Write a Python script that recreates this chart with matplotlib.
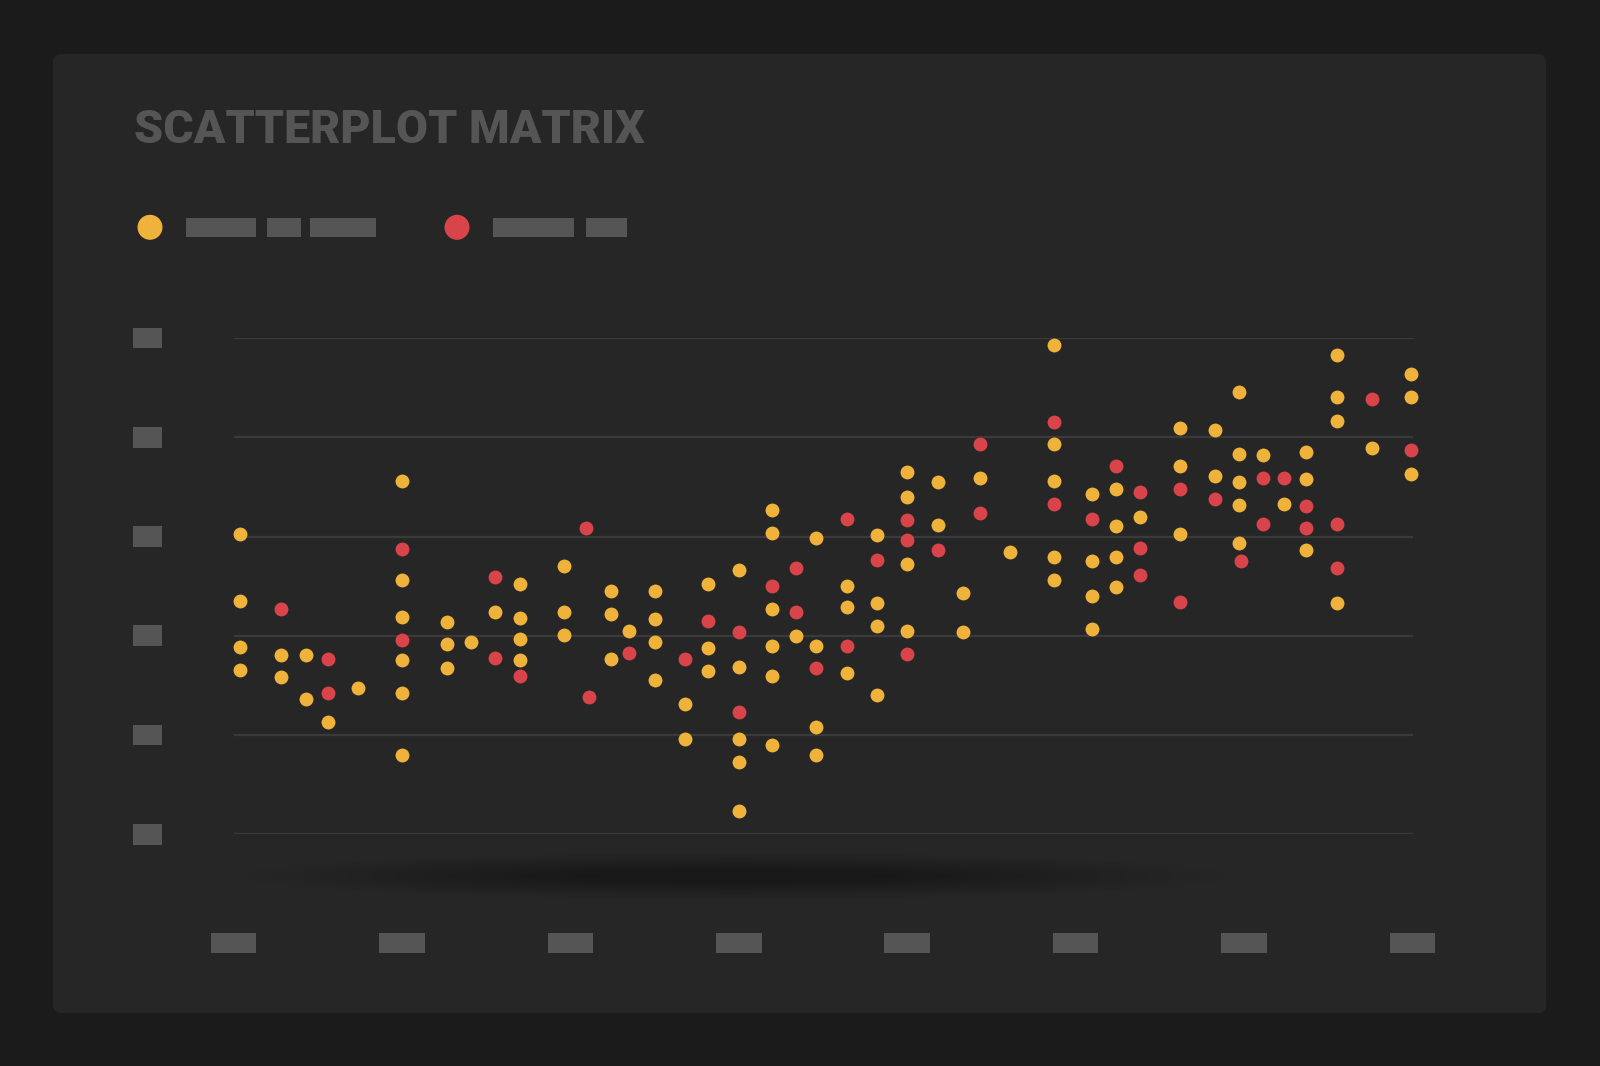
import numpy as np
import matplotlib
matplotlib.use('Agg')
import matplotlib.pyplot as plt
from matplotlib.patches import FancyBboxPatch, Rectangle, Circle, Ellipse
from matplotlib import transforms

# values (x in tick steps, y in grid steps)
yellow_x = [0.04, 0.04, 0.04, 0.04, 0.28, 0.28, 0.43, 0.43, 0.56, 0.74,
            1.00, 1.00, 1.00, 1.00, 1.00, 1.00, 1.27, 1.27, 1.27, 1.41, 1.55,
            1.70, 1.70, 1.70, 1.70, 1.96, 1.96, 1.96, 2.24, 2.24, 2.24, 2.35,
            2.50, 2.50, 2.50, 2.50, 2.68, 2.68, 2.82, 2.82, 2.82,
            3.00, 3.00, 3.00, 3.00, 3.00, 3.20, 3.20, 3.20, 3.20, 3.20, 3.20,
            3.34, 3.46, 3.46, 3.46, 3.46, 3.64, 3.64, 3.64, 3.82, 3.82, 3.82, 3.82,
            4.00, 4.00, 4.00, 4.00, 4.18, 4.18, 4.33, 4.33, 4.43, 4.61,
            4.87, 4.87, 4.87, 4.87, 4.87, 5.10, 5.10, 5.10, 5.10,
            5.24, 5.24, 5.24, 5.24, 5.38, 5.62, 5.62, 5.62, 5.83, 5.83,
            5.97, 5.97, 5.97, 5.97, 5.97, 6.11, 6.24, 6.37, 6.37, 6.37,
            6.55, 6.55, 6.55, 6.55, 6.76, 6.99, 6.99, 6.99]
yellow_y = [3.03, 2.35, 1.89, 1.66, 1.81, 1.58, 1.81, 1.36, 1.13, 1.47,
            3.56, 2.56, 2.19, 1.76, 1.42, 0.80, 2.14, 1.92, 1.68, 1.94, 2.24,
            2.52, 2.18, 1.97, 1.76, 2.70, 2.24, 2.01, 2.45, 2.22, 1.77, 2.05,
            2.45, 2.17, 1.94, 1.55, 1.31, 0.96, 2.52, 1.88, 1.65,
            2.66, 1.69, 0.96, 0.73, 0.23, 3.27, 3.04, 2.27, 1.90, 1.59, 0.90,
            2.00, 2.99, 1.90, 1.08, 0.80, 2.50, 2.29, 1.62, 3.02, 2.33, 2.10, 1.40,
            3.65, 3.40, 2.72, 2.05, 3.55, 3.12, 2.43, 2.04, 3.59, 2.84,
            4.93, 3.93, 3.56, 2.79, 2.56, 3.43, 2.75, 2.40, 2.07,
            3.48, 3.11, 2.79, 2.49, 3.20, 4.09, 3.71, 3.03, 4.07, 3.61,
            4.46, 3.83, 3.55, 3.32, 2.93, 3.82, 3.33, 3.85, 3.58, 2.86,
            4.83, 4.41, 4.16, 2.33, 3.89, 4.64, 4.41, 3.63]

red_x = [0.28, 0.56, 0.56, 1.00, 1.00, 1.55, 1.55, 1.70, 2.09, 2.11, 2.35,
         2.68, 2.82, 3.00, 3.00, 3.20, 3.34, 3.34, 3.46, 3.64, 3.64, 3.82,
         4.00, 4.00, 4.00, 4.18, 4.43, 4.43, 4.87, 4.87, 5.10, 5.24,
         5.38, 5.38, 5.38, 5.62, 5.62, 5.83, 5.98, 6.11, 6.11, 6.24,
         6.37, 6.37, 6.55, 6.55, 6.76, 6.99]
red_y = [2.27, 1.77, 1.42, 2.87, 1.96, 2.59, 1.78, 1.59, 3.09, 1.38, 1.83,
         1.77, 2.15, 2.04, 1.23, 2.50, 2.68, 2.24, 1.68, 3.18, 1.90, 2.76,
         3.17, 2.96, 1.82, 2.86, 3.93, 3.24, 4.15, 3.33, 3.18, 3.71,
         3.45, 2.88, 2.61, 3.48, 2.34, 3.38, 2.75, 3.59, 3.13, 3.59,
         3.31, 3.09, 3.13, 2.68, 4.39, 3.87]

x_ticks = [0, 1, 2, 3, 4, 5, 6, 7]
y_ticks = [0, 1, 2, 3, 4, 5]
title = 'SCATTERPLOT MATRIX'

c_yellow = '#EFB23B'
c_red = '#D9444A'
c_block = '#555555'
c_grid = '#3a3a3a'

W, H = 1600, 1066
fig = plt.figure(figsize=(16, 10.66), dpi=100, facecolor='#1b1b1b')

# pixel-space background layer
bg = fig.add_axes([0, 0, 1, 1], zorder=0)
bg.set_xlim(0, W)
bg.set_ylim(H, 0)
bg.axis('off')

bg.add_patch(FancyBboxPatch((53, 54), 1493, 959,
                            boxstyle='round,pad=0,rounding_size=8',
                            fc='#262626', ec='none'))

# soft shadow under the plot
for i in range(14):
    f = 1 - i / 14
    bg.add_patch(Ellipse((735, 876), 280 + 700 * f, 8 + 38 * f,
                         fc='black', ec='none', alpha=0.016))

bg.text(134, 142.7, title, fontsize=33.5, fontweight='black',
        family=['Roboto', 'DejaVu Sans'], color='#555555', va='baseline', ha='left')

# legend with placeholder labels
bg.add_patch(Circle((150, 227.3), 12.5, fc=c_yellow, ec='none'))
for x0, x1 in [(185.7, 256.4), (267, 300.7), (310, 375.7)]:
    bg.add_patch(Rectangle((x0, 217.5), x1 - x0, 19.5, fc=c_block, ec='none'))
bg.add_patch(Circle((457, 227.3), 12.5, fc=c_red, ec='none'))
for x0, x1 in [(492.9, 574), (585.7, 627)]:
    bg.add_patch(Rectangle((x0, 217.5), x1 - x0, 19.5, fc=c_block, ec='none'))

# data axes
left, right, top, bottom = 233.5, 1412.5, 338.0, 834.3
ax = fig.add_axes([left / W, (H - bottom) / H, (right - left) / W, (bottom - top) / H], zorder=2)
ax.set_facecolor('none')
ax.set_xlim(0, 7)
ax.set_ylim(0, 5)
ax.axis('off')

for yt in y_ticks:
    ax.axhline(yt, color=c_grid, lw=1.6, zorder=1)

# placeholder tick labels
tr_x = transforms.blended_transform_factory(ax.transData, bg.transData)
for xt in x_ticks:
    bg.add_patch(Rectangle((xt - 0.135, 932.7), 0.27, 20, fc=c_block, ec='none',
                           transform=tr_x, clip_on=False))
tr_y = transforms.blended_transform_factory(bg.transData, ax.transData)
for yt in y_ticks:
    bg.add_patch(Rectangle((133, yt - 0.105), 28.6, 0.21, fc=c_block, ec='none',
                           transform=tr_y, clip_on=False))

ax.scatter(yellow_x, yellow_y, s=100, c=c_yellow, linewidths=0, zorder=3, clip_on=False)
ax.scatter(red_x, red_y, s=100, c=c_red, linewidths=0, zorder=4, clip_on=False)

fig.savefig('out.png', dpi=100, facecolor=fig.get_facecolor())
